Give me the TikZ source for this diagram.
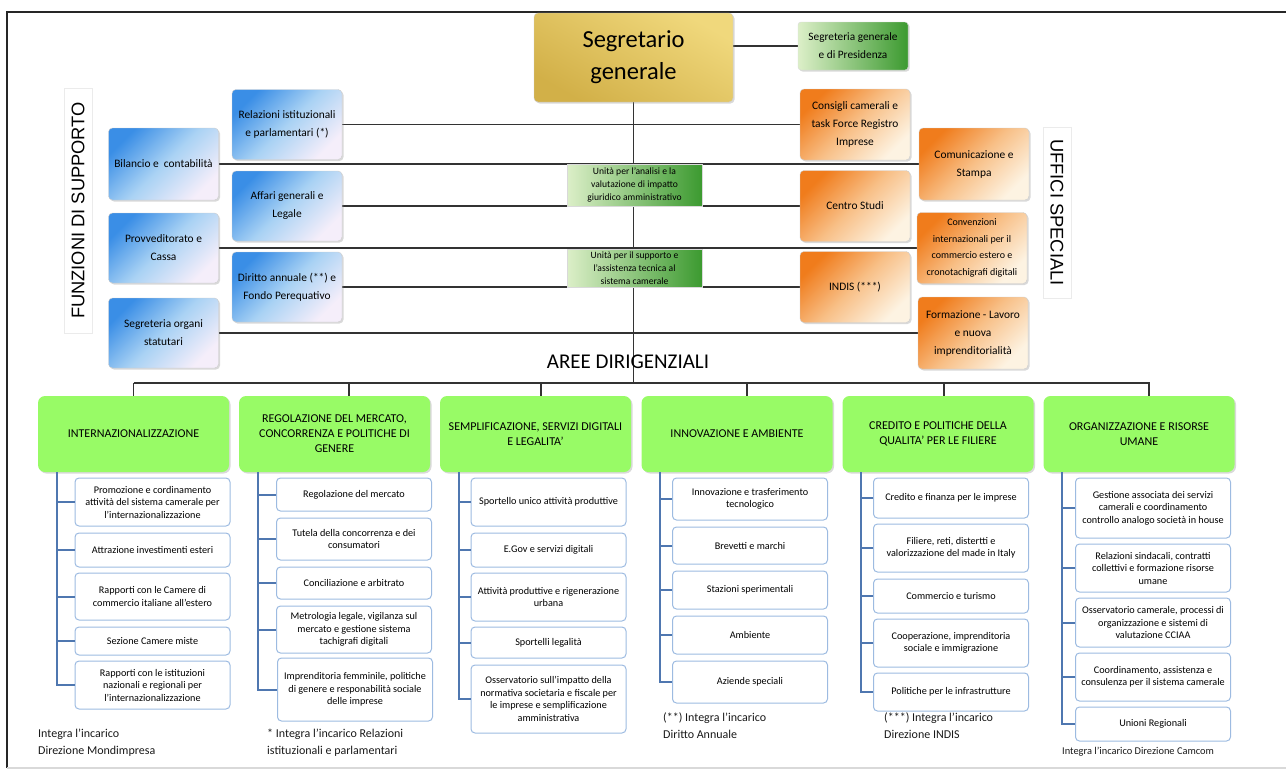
\documentclass[tikz,border=0pt]{standalone}
\usepackage{fontspec}
\setmainfont{Carlito}
\newfontfamily\titlefont{Liberation Sans}
\usepackage{xcolor}
\usepackage{tikz}
\usetikzlibrary{positioning}
\usetikzlibrary{calc}
\usetikzlibrary{shadows}
\usetikzlibrary{backgrounds}
\definecolor{supA}{HTML}{3A8EE6}
\definecolor{supB}{HTML}{A9D2F4}
\definecolor{supC}{HTML}{F5EEFA}
\definecolor{ufA}{HTML}{F07C1C}
\definecolor{ufB}{HTML}{F8C088}
\definecolor{ufC}{HTML}{FDF3E2}
\definecolor{grA}{HTML}{DCEFC8}
\definecolor{grB}{HTML}{3C9A30}
\definecolor{goldA}{HTML}{F0D87C}
\definecolor{goldB}{HTML}{D2B048}
\definecolor{areagreen}{HTML}{98FB66}
\definecolor{subline}{HTML}{9DBBE1}
\definecolor{treeblue}{HTML}{4F77B0}
\tikzset{>=stealth,
  box/.style={align=center, inner sep=2pt, text=black},
  shad/.style={drop shadow={opacity=.3, shadow xshift=1.5pt, shadow yshift=-1.5pt}},
  sgbox/.style={box, rounded corners=4pt, draw=black!20, top color=goldA, bottom color=goldB, shading angle=-30, shad, minimum width=199, minimum height=89, font=\fontsize{24.5}{32}\selectfont},
  presbox/.style={box, rounded corners=3pt, draw=black!15, left color=grA, right color=grB, shad, minimum width=110, minimum height=48, font=\fontsize{11.3}{18}\selectfont},
  unitbox/.style={box, draw=black!15, left color=grA, right color=grB, minimum width=135, inner sep=0pt, font=\fontsize{9.6}{13}\selectfont},
  supbox/.style={box, rounded corners=4pt, draw=black!20, top color=supA, bottom color=supC, middle color=supB, shading angle=45, shad, minimum width=110, minimum height=70, font=\fontsize{11.4}{18}\selectfont},
  ufbox/.style={box, rounded corners=4pt, draw=black!20, top color=ufA, bottom color=ufC, middle color=ufB, shading angle=45, shad, minimum width=110, minimum height=71, font=\fontsize{11.4}{18}\selectfont},
  titlebox/.style={box, draw=black!8, fill=white, minimum height=28, font=\titlefont\fontsize{18.3}{18.3}\selectfont},
  areabox/.style={box, rounded corners=7pt, fill=areagreen, shad, minimum width=191, minimum height=76, font=\fontsize{12}{15}\selectfont},
  sub/.style={box, rounded corners=4pt, draw=subline, line width=1, fill=white, minimum width=155, font=\fontsize{10.2}{12.5}\selectfont},
  note/.style={anchor=west, align=left, inner sep=0pt, text=black!90, font=\fontsize{12}{17}\selectfont},
  link/.style={draw=black!80, line width=1.2},
  tree/.style={draw=treeblue, line width=2}
}
\begin{document}
\begin{tikzpicture}[x=1pt,y=-1pt]
\useasboundingbox (0,0) rectangle (1286,771);
\draw[black!85,line width=1.2] (1286,12) -- (7,12) -- (7,768);
\draw[black!15,line width=1.2] (7,768) -- (1286,768);

\node[sgbox] (sg) at (633.5,57.5) {Segretario\\generale};
\node[presbox] (pres) at (853,46) {Segreteria generale\\e di Presidenza};

\node[titlebox, rotate=90, minimum width=245] (funz) at (78,210.5) {FUNZIONI DI SUPPORTO};
\node[titlebox, rotate=-90, minimum width=171] (uff) at (1057,212.5) {UFFICI SPECIALI};

\node[supbox, minimum height=72] (bilancio) at (163.5,164) {Bilancio e\ \ contabilità};
\node[supbox] (provv) at (163.5,248) {Provveditorato e\\Cassa};
\node[supbox] (segorg) at (163.5,333) {Segreteria organi\\statutari};
\node[supbox] (relaz) at (287,124.5) {Relazioni istituzionali\\e parlamentari (*)};
\node[supbox] (affari) at (287,206) {Affari generali e\\Legale};
\node[supbox] (diritto) at (287,287) {Diritto annuale (**) e\\Fondo Perequativo};

\node[ufbox] (consigli) at (855,124.5) {Consigli camerali e\\task Force Registro\\Imprese};
\node[ufbox] (centro) at (855,206) {Centro Studi};
\node[ufbox] (indis) at (855,287) {INDIS (***)};
\node[ufbox, minimum height=72] (comunic) at (974,164) {Comunicazione e\\Stampa};
\node[ufbox, font=\fontsize{10}{16.5}\selectfont] (conven) at (972,248) {Convenzioni\\internazionali per il\\commercio estero e\\cronotachigrafi digitali};
\node[ufbox, minimum height=72] (formaz) at (973,333) {Formazione - Lavoro\\e nuova\\imprenditorialità};

\node[unitbox, minimum height=42] (unit1) at (634.5,185) {Unità per l'analisi e la\\valutazione di impatto\\giuridico amministrativo};
\node[unitbox, minimum height=38] (unit2) at (634.5,268) {Unità per il supporto e\\l'assistenza tecnica al\\sistema camerale};

\node[font=\fontsize{21}{25}\selectfont, text=black] (aree) at (628,362) {AREE DIRIGENZIALI};

\node[areabox] (a1) at (133.5,434) {INTERNAZIONALIZZAZIONE};
\node[areabox] (a2) at (334.5,434) {REGOLAZIONE DEL MERCATO,\\CONCORRENZA E POLITICHE DI\\GENERE};
\node[areabox] (a3) at (535.5,434) {SEMPLIFICAZIONE, SERVIZI DIGITALI\\E LEGALITA'};
\node[areabox] (a4) at (737,434) {INNOVAZIONE E AMBIENTE};
\node[areabox] (a5) at (938,434) {CREDITO E POLITICHE DELLA\\QUALITA' PER LE FILIERE};
\node[areabox] (a6) at (1139,434) {ORGANIZZAZIONE E RISORSE\\UMANE};

\node[sub, minimum height=48] (s11) at (152.5,502) {Promozione e cordinamento\\attività del sistema camerale per\\l'internazionalizzazione};
\node[sub, minimum height=34] (s12) at (152.5,550) {Attrazione investimenti esteri};
\node[sub, minimum height=47] (s13) at (152.5,596.5) {Rapporti con le Camere di\\commercio italiane all'estero};
\node[sub, minimum height=28] (s14) at (152.5,641) {Sezione Camere miste};
\node[sub, minimum height=48] (s15) at (152.5,685) {Rapporti con le istituzioni\\nazionali e regionali per\\l'internazionalizzazione};

\node[sub, minimum height=33] (s21) at (354,494.5) {Regolazione del mercato};
\node[sub, minimum height=42] (s22) at (354,539) {Tutela della concorrenza e dei\\consumatori};
\node[sub, minimum height=32] (s23) at (354,583) {Conciliazione e arbitrato};
\node[sub, minimum height=47] (s24) at (354,629.5) {Metrologia legale, vigilanza sul\\mercato e gestione sistema\\tachigrafi digitali};
\node[sub, minimum height=63] (s25) at (355,689.5) {Imprenditoria femminile, politiche\\di genere e responabilità sociale\\delle imprese};

\node[sub, minimum height=48] (s31) at (548.5,502) {Sportello unico attività produttive};
\node[sub, minimum height=34] (s32) at (548.5,550) {E.Gov e servizi digitali};
\node[sub, minimum height=48] (s33) at (548.5,597) {Attività produttive e rigenerazione\\urbana};
\node[sub, minimum height=31] (s34) at (548.5,642.5) {Sportelli legalità};
\node[sub, minimum height=68] (s35) at (548.5,699) {Osservatorio sull'impatto della\\normativa societaria e fiscale per\\le imprese e semplificazione\\amministrativa};

\node[sub, minimum height=42] (s41) at (750,499) {Innovazione e trasferimento\\tecnologico};
\node[sub, minimum height=37] (s42) at (750,545.5) {Brevetti e marchi};
\node[sub, minimum height=38] (s43) at (750,590) {Stazioni sperimentali};
\node[sub, minimum height=38] (s44) at (750,635) {Ambiente};
\node[sub, minimum height=42] (s45) at (750,682) {Aziende speciali};

\node[sub, minimum height=40] (s51) at (951,498) {Credito e finanza per le imprese};
\node[sub, minimum height=48] (s52) at (951,548) {Filiere, reti, distertti e\\valorizzazione del made in Italy};
\node[sub, minimum height=34] (s53) at (951,596) {Commercio e turismo};
\node[sub, minimum height=48] (s54) at (951,643) {Cooperazione, imprenditoria\\sociale e immigrazione};
\node[sub, minimum height=38] (s55) at (951,692) {Politiche per le infrastrutture};

\node[sub, minimum height=60] (s61) at (1153,508) {Gestione associata dei servizi\\camerali e coordinamento\\controllo analogo società in house};
\node[sub, minimum height=48] (s62) at (1153,568) {Relazioni sindacali, contratti\\collettivi e formazione risorse\\umane};
\node[sub, minimum height=49] (s63) at (1153,622.5) {Osservatorio camerale, processi di\\organizzazione e sistemi di\\valutazione CCIAA};
\node[sub, minimum height=48] (s64) at (1153,677) {Coordinamento, assistenza e\\consulenza per il sistema camerale};
\node[sub, minimum height=34] (s65) at (1153,724) {Unioni Regionali};

\node[note] (n1) at (38,742.5) {Integra l'incarico\\Direzione Mondimpresa};
\node[note] (n2) at (267,742.5) {* Integra l'incarico Relazioni\\istituzionali e parlamentari};
\node[note] (n4) at (663,726) {(**) Integra l'incarico\\Diritto Annuale};
\node[note] (n5) at (884,726) {(***) Integra l'incarico\\Direzione INDIS};
\node[note, font=\fontsize{10.4}{12}\selectfont] (n6) at (1062,752) {Integra l'incarico Direzione Camcom};

\coordinate (busL) at (a1.north |- 0,383);
\coordinate (busR) at ($(a6.north |- busL)+(10,0)$);

\begin{scope}[on background layer]
\draw[link] (pres.west -| sg.east) -- (pres.west);
\draw[link] (sg.south) -- (sg.south |- busL);
\draw[link] (relaz.east) -- (consigli.west);
\draw[link] (bilancio.east) -- (comunic.west);
\draw[link] (affari.east) -- (centro.west);
\draw[link] (provv.east) -- (conven.west);
\draw[link] (diritto.east) -- (indis.west);
\draw[link] (segorg.east) -- (formaz.west);
\draw[link] (busL) -- (busR);
\foreach \a/\dx in {1/0,2/14.5,3/5.5,4/10,5/6,6/10}
  \draw[link] ([xshift=\dx]a\a.north) |- (busL);
\end{scope}

\foreach \c in {1,...,6} {
  \coordinate (t\c) at ($(a\c.south west)+(19,0)$);
  \draw[tree] (t\c) |- (s\c5.west);
  \foreach \r in {1,...,4}
    \draw[tree] (s\c\r.west) -- (s\c\r.west -| t\c);
}
\end{tikzpicture}
\end{document}
